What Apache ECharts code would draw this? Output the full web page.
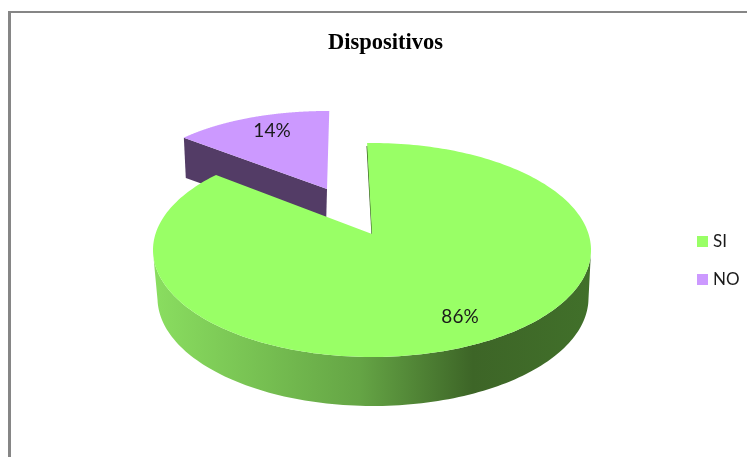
<!DOCTYPE html>
<html><head><meta charset="utf-8">
<style>html,body{margin:0;padding:0;background:#fff}#c{width:747px;height:457px}</style>
<script src="https://cdn.jsdelivr.net/npm/echarts@6/dist/echarts.min.js"></script>
</head><body><div id="c"></div>
<script>
const title = 'Dispositivos';
const categories = ['SI', 'NO'];
const values = [86, 14];
const percentLabels = ['86%', '14%'];

const topColors = ['#99FF66', '#CC99FF'];
const wallFills = [
  {type:'linear',x:0,y:0,x2:1,y2:0,colorStops:[
    {offset:0,color:'#8ADE60'},{offset:0.47,color:'#65A545'},
    {offset:0.73,color:'#3D6527'},{offset:1,color:'#41702A'}]},
  '#533C66'
];
// Projected disc geometry of each slice (perspective tilt of a 3D exploded pie)
const layouts = [
  {apexX:372, ellipseY:250, rx:219, ry:107, tilt:0.15, rot:-1.5,
   wallX:373, wallY:298, wallRx:215.5, wallRy:108, labelX:460, labelY:317, frontOnly:true},
  {apexX:327, ellipseY:193, rx:194, ry:82, tilt:0.05, rot:0.7,
   wallX:326, wallY:232, wallRx:190, wallRy:80, labelX:272, labelY:131, frontOnly:false}
];

const total = values.reduce((a, b) => a + b, 0);
function project(deg, cx, cy, rx, ry, d) {
  const t = deg * Math.PI / 180, u = Math.sin(t), v = -Math.cos(t), w = 1 - d * v;
  const a = u * Math.sqrt(1 - d * d) / w, b = (v - d) / w;
  return {x: cx + rx * a, y: cy + ry * b, b};
}
function renderSlice(params, api) {
  const i = params.seriesIndex, L = layouts[i], val = api.value(0);
  const cum = values.slice(0, i).reduce((a, b) => a + b, 0);
  const from = L.rot + cum / total * 360, to = from + val / total * 360;
  const apex = {x: L.apexX, y: L.ellipseY - L.ry * L.tilt};
  const wallApex = {x: L.wallX, y: L.wallY - L.wallRy * L.tilt};
  const top = [apex], upper = [], lower = [];
  const n = 240;
  for (let k = 0; k <= n; k++) {
    const deg = from + (to - from) * k / n;
    const p = project(deg, L.apexX, L.ellipseY, L.rx, L.ry, L.tilt);
    const q = project(deg, L.wallX, L.wallY, L.wallRx, L.wallRy, L.tilt);
    top.push([p.x, p.y]);
    if (L.frontOnly && p.b >= 0) { upper.push([p.x, p.y]); lower.unshift([q.x, q.y]); }
  }
  top[0] = [apex.x, apex.y];
  const children = [];
  if (L.frontOnly) {
    children.push({type:'polygon', shape:{points: upper.concat(lower)}, style:{fill: wallFills[i]}});
    const s = top[1];
    children.push({type:'line', shape:{x1:s[0], y1:s[1]+3, x2:apex.x, y2:apex.y}, style:{stroke:'#3D6527', lineWidth:1.2}});
  } else {
    const start = top[1];
    const qs = project(from, L.wallX, L.wallY, L.wallRx, L.wallRy, L.tilt);
    children.push({type:'polygon', shape:{points:[start,[apex.x,apex.y],[wallApex.x,wallApex.y],[qs.x,qs.y]]}, style:{fill: wallFills[i]}});
  }
  children.push({type:'polygon', shape:{points: top}, style:{fill: topColors[i]}});
  children.push({type:'text', style:{text: percentLabels[i], x:L.labelX, y:L.labelY, align:'center', verticalAlign:'middle',
    font:'19px Lato', fill:'#1a1a1a'}});
  return {type:'group', children};
}
const chart = echarts.init(document.getElementById('c'), null, {renderer:'canvas'});
chart.setOption({
  animation:false,
  backgroundColor:'#fff',
  title:{text:title, left:380.5, top:27, textAlign:'center',
    textStyle:{fontFamily:'Liberation Serif', fontWeight:'bold', fontSize:22.5, color:'#000'}},
  legend:{orient:'vertical', left:697, top:233, padding:0, itemWidth:11, itemHeight:11, itemGap:21,
    icon:'rect', data:categories, selectedMode:false,
    textStyle:{fontFamily:'Lato', fontSize:17, color:'#1a1a1a', padding:[0,0,0,0]}},
  graphic:[
    {type:'rect', silent:true, shape:{x:8,y:11,width:3,height:446}, style:{fill:'#868686'}},
    {type:'rect', silent:true, shape:{x:8,y:11,width:739,height:2}, style:{fill:'#868686'}}
  ],
  series: categories.map((name, i) => ({
    type:'custom', name, coordinateSystem:'none', silent:true,
    z: i === 0 ? 3 : 2,
    itemStyle:{color: topColors[i]},
    renderItem: renderSlice,
    data:[[values[i]]]
  }))
});
</script></body></html>
